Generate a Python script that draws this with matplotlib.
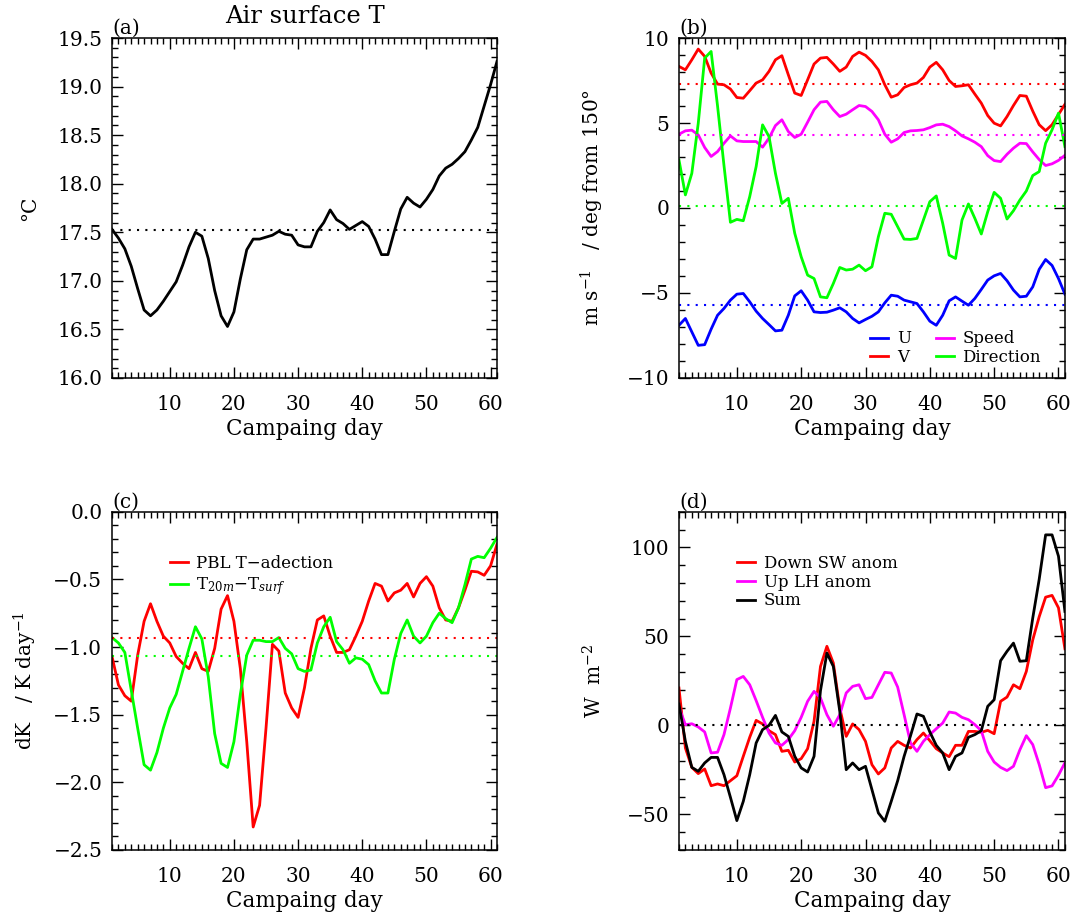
import numpy as np
import matplotlib
matplotlib.use('Agg')
import matplotlib.pyplot as plt
from matplotlib.ticker import MultipleLocator, FuncFormatter

plt.rcParams['font.family'] = 'DejaVu Serif'
plt.rcParams['mathtext.fontset'] = 'dejavuserif'

# Datos (dia de campaña 1..61)
days = np.arange(1, 62)

# (a) temperatura del aire en superficie
t_air = [17.53, 17.44, 17.33, 17.15, 16.92, 16.70, 16.64, 16.70, 16.79, 16.89,
         16.99, 17.16, 17.35, 17.50, 17.46, 17.23, 16.90, 16.64, 16.53, 16.68,
         17.02, 17.32, 17.43, 17.43, 17.45, 17.47, 17.51, 17.48, 17.47, 17.37,
         17.35, 17.35, 17.51, 17.60, 17.73, 17.63, 17.59, 17.53, 17.57, 17.61,
         17.56, 17.43, 17.27, 17.27, 17.51, 17.74, 17.86, 17.80, 17.76, 17.84,
         17.94, 18.08, 18.16, 18.20, 18.26, 18.33, 18.45, 18.58, 18.80, 19.02, 19.26]
t_air_mean = 17.52

# (b) viento
u_wind = [-6.90, -6.50, -7.29, -8.08, -8.04, -7.13, -6.31, -5.91, -5.42, -5.07,
          -5.03, -5.52, -6.07, -6.50, -6.86, -7.23, -7.19, -6.31, -5.17, -4.87,
          -5.42, -6.11, -6.15, -6.13, -6.01, -5.87, -6.11, -6.50, -6.76, -6.56,
          -6.37, -6.11, -5.58, -5.13, -5.19, -5.42, -5.52, -5.62, -6.11, -6.66,
          -6.90, -6.31, -5.46, -5.23, -5.48, -5.72, -5.32, -4.79, -4.24, -3.99,
          -3.85, -4.28, -4.83, -5.23, -5.19, -4.64, -3.61, -3.03, -3.38, -4.15, -5.07]
v_wind = [8.33, 8.13, 8.72, 9.35, 8.92, 7.94, 7.29, 7.25, 7.00, 6.50,
          6.46, 6.90, 7.35, 7.54, 8.04, 8.72, 8.96, 7.84, 6.76, 6.62,
          7.54, 8.47, 8.82, 8.86, 8.47, 8.04, 8.29, 8.92, 9.17, 8.98,
          8.62, 8.13, 7.25, 6.52, 6.66, 7.09, 7.25, 7.35, 7.68, 8.29,
          8.57, 8.13, 7.50, 7.15, 7.19, 7.25, 6.70, 6.17, 5.44, 4.99,
          4.83, 5.38, 6.03, 6.62, 6.58, 5.70, 4.90, 4.55, 4.90, 5.50, 6.10]
speed = [4.34, 4.54, 4.58, 4.30, 3.56, 3.03, 3.32, 3.81, 4.24, 3.95,
         3.91, 3.91, 3.91, 3.58, 4.11, 4.85, 5.19, 4.50, 4.15, 4.34,
         5.05, 5.78, 6.23, 6.27, 5.78, 5.38, 5.52, 5.78, 6.03, 5.97,
         5.68, 5.19, 4.34, 3.87, 4.07, 4.44, 4.54, 4.56, 4.60, 4.73,
         4.89, 4.93, 4.79, 4.54, 4.24, 4.07, 3.87, 3.61, 3.08, 2.79,
         2.73, 3.16, 3.52, 3.81, 3.79, 3.30, 2.85, 2.50, 2.60, 2.80, 3.10]
direction = [2.83, 0.77, 2.04, 4.99, 8.82, 9.21, 6.00, 2.50, -0.84, -0.67,
             -0.75, 0.67, 2.44, 4.89, 4.20, 2.04, 0.27, 0.57, -1.49, -2.87,
             -3.95, -4.15, -5.23, -5.28, -4.44, -3.50, -3.65, -3.60, -3.36, -3.69,
             -3.46, -1.69, -0.31, -0.37, -1.10, -1.83, -1.85, -1.79, -0.71, 0.37,
             0.71, -0.90, -2.77, -2.97, -0.71, 0.24, -0.61, -1.53, -0.22, 0.92,
             0.57, -0.65, -0.16, 0.47, 1.00, 1.91, 2.14, 3.81, 4.60, 5.58, 3.61]
wind_means = [-5.68, 7.30, 4.30, 0.12]   # U, V, Speed, Direction

# (c) tasas de calentamiento
adv_pbl = [-1.07, -1.28, -1.36, -1.40, -1.06, -0.81, -0.68, -0.81, -0.92, -0.97,
           -1.07, -1.12, -1.16, -1.04, -1.16, -1.18, -1.01, -0.72, -0.62, -0.81,
           -1.16, -1.70, -2.33, -2.17, -1.60, -0.98, -1.03, -1.34, -1.45, -1.52,
           -1.30, -1.01, -0.80, -0.77, -0.92, -1.04, -1.04, -1.02, -0.92, -0.81,
           -0.66, -0.53, -0.55, -0.66, -0.60, -0.58, -0.53, -0.63, -0.53, -0.48,
           -0.55, -0.71, -0.80, -0.81, -0.71, -0.58, -0.44, -0.445, -0.47, -0.40, -0.24]
dt_20m_surf = [-0.93, -0.97, -1.04, -1.32, -1.60, -1.87, -1.91, -1.78, -1.60, -1.45,
               -1.35, -1.18, -1.01, -0.85, -0.94, -1.22, -1.64, -1.86, -1.89, -1.70,
               -1.35, -1.06, -0.95, -0.95, -0.96, -0.96, -0.93, -1.01, -1.05, -1.16,
               -1.18, -1.17, -0.97, -0.85, -0.78, -0.96, -1.02, -1.12, -1.08, -1.09,
               -1.13, -1.25, -1.34, -1.34, -1.09, -0.90, -0.80, -0.92, -0.97, -0.92,
               -0.82, -0.75, -0.79, -0.82, -0.71, -0.54, -0.35, -0.33, -0.34, -0.27, -0.19]
heat_means = [-0.93, -1.07]   # adveccion, T20m-Tsurf

# (d) anomalias de flujos
sw_anom = [21.0, -12.7, -23.6, -27.1, -24.5, -33.9, -32.9, -33.9, -31.1, -28.3,
           -17.4, -6.7, 2.8, 0.8, -3.0, -5.2, -14.6, -14.0, -20.6, -18.7,
           -13.1, 2.3, 33.1, 44.4, 35.0, 9.7, -6.2, 0.8, -2.4, -9.0,
           -22.1, -27.3, -23.9, -12.7, -9.0, -11.2, -12.7, -8.0, -4.3, -8.6,
           -13.1, -15.5, -17.6, -11.2, -11.2, -3.4, -3.4, -3.9, -2.8, -4.7,
           13.5, 15.9, 22.8, 20.6, 30.3, 48.0, 61.0, 72.0, 73.0, 66.0, 43.0]
lh_anom = [10.1, 0.4, 0.9, -0.9, -3.7, -15.5, -15.1, -5.2, 9.7, 25.7,
           27.5, 22.8, 13.9, 4.5, -4.3, -9.9, -11.2, -8.0, -3.0, 4.5,
           13.5, 19.1, 15.4, 6.0, -0.5, 6.0, 18.2, 21.9, 22.8, 15.0,
           15.7, 22.8, 29.8, 29.4, 21.5, 6.0, -9.9, -14.6, -9.0, -5.2,
           -1.9, 1.3, 7.5, 6.9, 4.5, 3.2, 0.4, -3.0, -14.6, -20.6,
           -23.6, -25.4, -23.0, -13.7, -5.8, -10.8, -22.0, -35.0, -34.0, -28.0, -21.0]
flux_sum = [12.0, -9.0, -23.6, -25.8, -21.1, -18.0, -18.0, -27.7, -40.4, -53.5,
            -42.7, -27.7, -9.9, -2.4, 0.0, 5.6, -3.7, -6.2, -17.4, -23.9,
            -26.2, -17.4, 19.5, 40.6, 33.1, 7.9, -24.9, -21.1, -24.9, -23.0,
            -36.1, -49.2, -53.9, -42.7, -31.1, -17.4, -5.8, 6.4, 5.1, -3.7,
            -11.2, -15.5, -24.9, -17.4, -15.5, -6.7, -5.2, -3.0, 10.7, 14.4,
            36.3, 41.6, 46.2, 36.0, 36.3, 60.3, 82.0, 107.0, 107.0, 95.0, 64.0]
flux_mean = 0.0

LW = 2.0
DOTS = (0, (1, 3))


def fmt(decimals):
    def f(v, pos):
        if abs(v) < 1e-9:
            v = 0.0
        return f'{v:.{decimals}f}'.replace('-', '\u2212')
    return FuncFormatter(f)


def estilo(ax, ylim, major, minor, dec, label):
    ax.set_xlim(1, 61)
    ax.set_ylim(*ylim)
    ax.xaxis.set_major_locator(MultipleLocator(10))
    ax.xaxis.set_minor_locator(MultipleLocator(1))
    ax.yaxis.set_major_locator(MultipleLocator(major))
    ax.yaxis.set_minor_locator(MultipleLocator(minor))
    ax.yaxis.set_major_formatter(fmt(dec))
    ax.tick_params(which='both', direction='in', top=True, right=True,
                   labelsize=14.5, width=1)
    ax.tick_params(which='major', length=8)
    ax.tick_params(which='minor', length=4)
    ax.tick_params(axis='x', pad=12)
    ax.tick_params(axis='y', pad=7)
    for s in ax.spines.values():
        s.set_linewidth(1.1)
    ax.set_xlabel('Campaing day', fontsize=15.5, labelpad=3)
    ax.set_ylabel(label, fontsize=14.5)
    ax.yaxis.set_label_coords(-0.19, 0.5)


fig = plt.figure(figsize=(10.76, 9.23), dpi=100)
ax_a = fig.add_axes([0.1041, 0.5905, 0.3578, 0.3683])
ax_b = fig.add_axes([0.6310, 0.5905, 0.3587, 0.3683])
ax_c = fig.add_axes([0.1041, 0.0791, 0.3578, 0.3665])
ax_d = fig.add_axes([0.6310, 0.0791, 0.3587, 0.3665])

# (a)
ax_a.plot(days, t_air, color='black', lw=LW)
ax_a.axhline(t_air_mean, color='black', ls=DOTS, lw=1.5)
estilo(ax_a, (16.0, 19.5), 0.5, 0.1, 1, '°C')
ax_a.set_title('Air surface T', fontsize=17.5, pad=11)

# (b)
colores_b = ['blue', 'red', 'magenta', 'lime']
series_b = [u_wind, v_wind, speed, direction]
nombres_b = ['U', 'V', 'Speed', 'Direction']
for serie, c, n in zip(series_b, colores_b, nombres_b):
    ax_b.plot(days, serie, color=c, lw=LW, label=n)
for m, c in zip(wind_means, colores_b):
    ax_b.axhline(m, color=c, ls=DOTS, lw=1.5)
estilo(ax_b, (-10, 10), 5, 1, 0, r'm s$^{-1}$   / deg from 150°')
ax_b.legend(loc='upper left', bbox_to_anchor=(0.495, 0.14), ncol=2, frameon=False,
            fontsize=12, handlelength=1.1, handletextpad=0.5, columnspacing=1.5,
            labelspacing=0.1, borderpad=0, borderaxespad=0)

# (c)
ax_c.plot(days, adv_pbl, color='red', lw=LW, label='PBL T\u2212adection')
ax_c.plot(days, dt_20m_surf, color='lime', lw=LW, label=r'T$_{20m}$$-$T$_{surf}$')
for m, c in zip(heat_means, ['red', 'lime']):
    ax_c.axhline(m, color=c, ls=DOTS, lw=1.5)
estilo(ax_c, (-2.5, 0.0), 0.5, 0.1, 1, r'dK   / K day$^{-1}$')
ax_c.legend(loc='upper left', bbox_to_anchor=(0.15, 0.872), frameon=False,
            fontsize=12, handlelength=1.1, handletextpad=0.5,
            labelspacing=0.2, borderpad=0, borderaxespad=0)

# (d)
ax_d.plot(days, sw_anom, color='red', lw=LW, label='Down SW anom')
ax_d.plot(days, lh_anom, color='magenta', lw=LW, label='Up LH anom')
ax_d.plot(days, flux_sum, color='black', lw=LW, label='Sum')
ax_d.axhline(flux_mean, color='black', ls=DOTS, lw=1.5)
estilo(ax_d, (-70, 120), 50, 10, 0, r'W  m$^{-2}$')
ax_d.legend(loc='upper left', bbox_to_anchor=(0.15, 0.872), frameon=False,
            fontsize=12, handlelength=1.1, handletextpad=0.5,
            labelspacing=0.1, borderpad=0, borderaxespad=0)

for ax, letra in zip([ax_a, ax_b, ax_c, ax_d], ['(a)', '(b)', '(c)', '(d)']):
    ax.text(0.0, 1.0, letra, transform=ax.transAxes, ha='left', va='bottom',
            fontsize=14.5)

fig.savefig('out.png', dpi=100)
